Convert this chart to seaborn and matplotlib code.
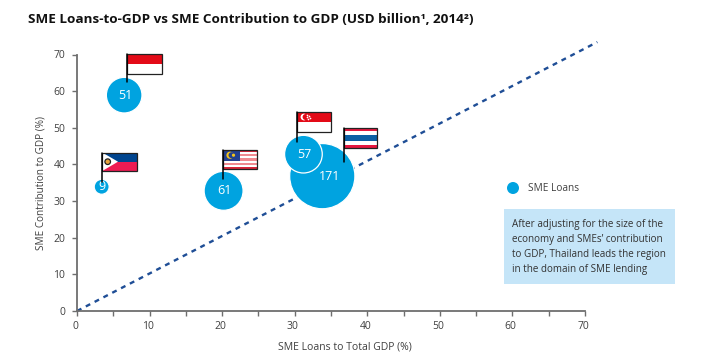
import pandas as pd
import matplotlib
matplotlib.use("Agg")
import matplotlib.pyplot as plt
from matplotlib.patches import Rectangle, Circle, Polygon
from matplotlib.transforms import ScaledTranslation
import seaborn as sns

# -----------------------------
# Data
# -----------------------------
countries = ["Indonesia", "Philippines", "Malaysia", "Thailand", "Singapore"]
loans_to_gdp = [6.5, 3.4, 20.2, 33.8, 31.2]
contribution_to_gdp = [58.9, 33.9, 32.8, 36.8, 42.8]
sme_loans = [51, 9, 61, 171, 57]

trend_x = [0, 71.7]
trend_y = [0, 73.4]

x_ticks = list(range(0, 71, 5))
x_labels = [str(v) if v % 10 == 0 else "" for v in x_ticks]
y_ticks = list(range(0, 71, 10))

TITLE = "SME Loans-to-GDP vs SME Contribution to GDP (USD billion¹, 2014²)"
NOTE = ("After adjusting for the size of the\n"
        "economy and SMEs’ contribution\n"
        "to GDP, Thailand leads the region\n"
        "in the domain of SME lending")

BLUE = "#00A3E0"
TEXT = "#404040"
AXIS = "#6E6E6E"

df = pd.DataFrame({"country": countries, "x": loans_to_gdp,
                   "y": contribution_to_gdp, "loans": sme_loans})

# -----------------------------
# Figure
# -----------------------------
sns.set_style("white")
plt.rcParams["font.family"] = ["Open Sans", "DejaVu Sans"]

W, H = 724, 360
fig = plt.figure(figsize=(W / 100, H / 100), dpi=100)
ax = fig.add_axes([77 / W, 1 - 311 / H, 508 / W, 256.5 / H])

ax.plot(trend_x, trend_y, color="#1F4E96", lw=1.7, ls=(0, (2.1, 2.1)),
        clip_on=False, zorder=1)

sns.scatterplot(data=df, x="x", y="y", size="loans", sizes=(116, 2206),
                size_norm=(9, 171), color=BLUE, edgecolor="white",
                linewidth=0.9, legend=False, clip_on=False, zorder=2, ax=ax)

label_dx = {"Thailand": 5, "Philippines": 0}
for _, row in df.iterrows():
    dx = label_dx.get(row["country"], 0.8)
    ax.annotate(str(row["loans"]), (row["x"], row["y"]), xytext=(dx, 0),
                textcoords="offset points", color="white", ha="center",
                va="center", fontsize=9, zorder=3)

ax.set_xlim(0, 70)
ax.set_ylim(0, 70)
ax.set_xticks(x_ticks)
ax.set_xticklabels(x_labels)
ax.set_yticks(y_ticks)
ax.tick_params(axis="both", length=3.5, width=1, color=AXIS, labelcolor=TEXT,
               labelsize=7.5, bottom=True, left=True)
ax.tick_params(axis="x", pad=3.5)
ax.tick_params(axis="y", pad=5)
ax.set_xlabel("SME Loans to Total GDP (%)", fontsize=7.5, color=TEXT, labelpad=7)
ax.set_ylabel("SME Contribution to GDP (%)", fontsize=7.2, color=TEXT, labelpad=5)
ax.xaxis.label.set_x(0.5276)
sns.despine(ax=ax)
for side in ["left", "bottom"]:
    ax.spines[side].set_color(AXIS)
    ax.spines[side].set_linewidth(1.3)

# tick labels sit a little left of their ticks in the original
nudge = ScaledTranslation(-2 / 100, 0, fig.dpi_scale_trans)
for lab in ax.get_xticklabels():
    lab.set_transform(lab.get_transform() + nudge)

# -----------------------------
# Overlay in pixel coordinates: flags, legend, note
# -----------------------------
ov = fig.add_axes([0, 0, 1, 1], facecolor="none")
ov.set_xlim(0, W)
ov.set_ylim(H, 0)
ov.axis("off")


def stripes(left, top, width, height, bands):
    total = sum(b[0] for b in bands)
    y = top
    for size, colour in bands:
        h = height * size / total
        ov.add_patch(Rectangle((left, y), width, h, fc=colour, ec="none", zorder=5))
        y += h


def flag(left, top, right, bottom, pole_bottom, bands):
    stripes(left, top, right - left, bottom - top, bands)
    ov.add_patch(Rectangle((left, top), right - left, bottom - top, fc="none",
                           ec="#222222", lw=0.9, zorder=7))
    ov.plot([left, left], [top, pole_bottom], color="black", lw=1.1, zorder=8)


# Indonesia
flag(127.3, 53.5, 161.5, 74, 82, [(1, "#E30A17"), (1, "white")])

# Philippines
flag(102.3, 152.5, 136.5, 171, 181.5, [(1, "#00458F"), (1, "#EE1B53")])
ov.add_patch(Polygon([(102.3, 152.5), (118, 161.7), (102.3, 171)], fc="white",
                     ec="none", zorder=6))
ov.add_patch(Circle((107.7, 161.7), 2.8, fc="#E8A33D", ec="#222222", lw=0.9, zorder=6.5))

# Malaysia
flag(223, 149.7, 257, 169.3, 179,
     [(1, "#D8263A"), (1, "white"), (1, "#F08A90"), (1, "white"), (1, "#F08A90"),
      (1, "white"), (1, "#F08A90"), (1, "white"), (1, "#D8263A")])
ov.add_patch(Rectangle((223, 149.7), 17, 11, fc="#23408F", ec="none", zorder=6))
ov.add_patch(Circle((230, 155.2), 3.6, fc="#F5C518", ec="none", zorder=6.2))
ov.add_patch(Circle((231.5, 155.2), 3, fc="#23408F", ec="none", zorder=6.3))
ov.add_patch(Circle((233.5, 155.2), 1.6, fc="#F5C518", ec="none", zorder=6.4))

# Singapore
flag(297.3, 112, 331, 131.7, 141.7, [(1, "#E30A17"), (1, "white")])
ov.add_patch(Circle((304, 117), 3.4, fc="white", ec="none", zorder=6))
ov.add_patch(Circle((305.6, 117), 3, fc="#E30A17", ec="none", zorder=6.1))
ov.scatter([307, 309, 308, 306.5, 309.5], [114.5, 116, 119, 117, 118], s=1.5,
           color="white", linewidths=0, zorder=6.2)

# Thailand
flag(343.7, 127.7, 376.7, 148.3, 161.7,
     [(1, "#E5173F"), (1, "white"), (2, "#0B5FA5"), (1, "white"), (1, "#E5173F")])

# Legend
ov.add_patch(Circle((513, 188), 6, fc=BLUE, ec="none"))
ov.text(528, 188.5, "SME Loans", fontsize=7.3, color=TEXT, va="center", ha="left")

# Note box
ov.add_patch(Rectangle((504, 209), 171, 75, fc="#C5E5F8", ec="none"))
ov.text(511.5, 247, NOTE, fontsize=7.15, color="#333333", va="center", ha="left",
        linespacing=1.5)

# Title
ov.text(28, 19.5, TITLE, fontsize=9.7, fontweight="bold", color="#111111",
        va="center", ha="left")

fig.savefig("out.png", dpi=100)
plt.close(fig)
